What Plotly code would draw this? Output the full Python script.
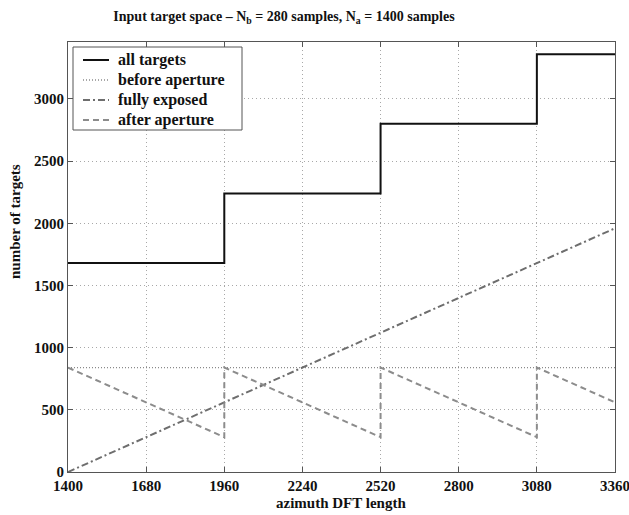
import plotly.graph_objects as go

# Azimuth DFT length breakpoints (Nb = 280, Na = 1400 samples)
dft_length = [1400, 1960, 1960, 2520, 2520, 3080, 3080, 3360]
all_targets = [1680, 1680, 2240, 2240, 2800, 2800, 3360, 3360]
after_aperture = [840, 280, 840, 280, 840, 280, 840, 560]

before_x = [1400, 3360]
before_aperture = [840, 840]

exposed_x = [1400, 3360]
fully_exposed = [0, 1960]

x_ticks = [1400, 1680, 1960, 2240, 2520, 2800, 3080, 3360]
y_ticks = [0, 500, 1000, 1500, 2000, 2500, 3000]

FONT = "Liberation Serif"
TEXT = "#111111"

# Plot-area geometry in pixels (for placing the hand-drawn legend box)
W, H = 629, 515
M_L, M_R, M_T, M_B = 68, 14, 42, 43
PW, PH = W - M_L - M_R, H - M_T - M_B


def px(x):
    return (x - M_L) / PW


def py(y):
    return (H - M_B - y) / PH


series = [
    dict(name="all targets", x=dft_length, y=all_targets, color="#111111", width=2, dash="solid"),
    dict(name="before aperture", x=before_x, y=before_aperture, color="#8a8a8a", width=1.3, dash="1px,2px"),
    dict(name="fully exposed", x=exposed_x, y=fully_exposed, color="#6e6e6e", width=2, dash="7px,3px,2px,3px"),
    dict(name="after aperture", x=dft_length, y=after_aperture, color="#8c8c8c", width=2, dash="6px,4px"),
]

fig = go.Figure()
for s in series:
    fig.add_trace(go.Scatter(x=s["x"], y=s["y"], mode="lines", name=s["name"], showlegend=False,
                             line=dict(color=s["color"], width=s["width"], dash=s["dash"])))

axis_common = dict(
    showline=True, linecolor="#555555", linewidth=1, mirror="ticks",
    ticks="inside", ticklen=5, tickcolor="#555555",
    showgrid=True, gridcolor="#a8a8a8", griddash="1px,3px", gridwidth=1,
    zeroline=False, automargin=False, ticklabeloverflow="allow",
    tickfont=dict(family=FONT, size=15, color=TEXT),
)

# Legend box with line samples and labels
shapes = [dict(type="rect", xref="paper", yref="paper",
               x0=px(73), x1=px(242), y0=py(130), y1=py(47),
               line=dict(color="#555555", width=1), fillcolor="white", layer="above")]
annotations = []
row_y = [60, 80, 100, 120]
for s, ry in zip(series, row_y):
    shapes.append(dict(type="line", xref="paper", yref="paper",
                       x0=px(83), x1=px(109), y0=py(ry), y1=py(ry), layer="above",
                       line=dict(color=s["color"], width=s["width"], dash=s["dash"])))
    annotations.append(dict(text=f"<b>{s['name']}</b>", xref="paper", yref="paper",
                            x=px(116), y=py(ry), xanchor="left", yanchor="middle",
                            showarrow=False, font=dict(family=FONT, size=16, color=TEXT)))

annotations.append(dict(text="<b>number of targets</b>", xref="paper", yref="paper",
                        x=px(15), y=py(222), xanchor="center", yanchor="middle", textangle=-90,
                        showarrow=False, font=dict(family=FONT, size=15, color=TEXT)))
annotations.append(dict(text="<b>azimuth DFT length</b>", xref="paper", yref="paper",
                        x=px(341), y=py(503), xanchor="center", yanchor="middle",
                        showarrow=False, font=dict(family=FONT, size=15, color=TEXT)))

fig.update_layout(
    width=W, height=H,
    margin=dict(l=M_L, r=M_R, t=M_T, b=M_B),
    paper_bgcolor="white", plot_bgcolor="white",
    font=dict(family=FONT, color=TEXT),
    title=dict(text="<b>Input target space \u2013 N<sub>b</sub> = 280 samples, N<sub>a</sub> = 1400 samples</b>",
               x=284 / W, xanchor="center", y=1 - 16 / H, yanchor="middle",
               font=dict(family=FONT, size=14, color=TEXT)),
    xaxis=dict(range=[1400, 3360], tickvals=x_ticks, ticktext=[f"<b>{v}</b>" for v in x_ticks],
               **axis_common),
    yaxis=dict(range=[0, 3458], tickvals=y_ticks, ticktext=[f"<b>{v}</b>" for v in y_ticks],
               **axis_common),
    showlegend=False,
    shapes=shapes,
    annotations=annotations,
)

fig.write_html("out.html")
